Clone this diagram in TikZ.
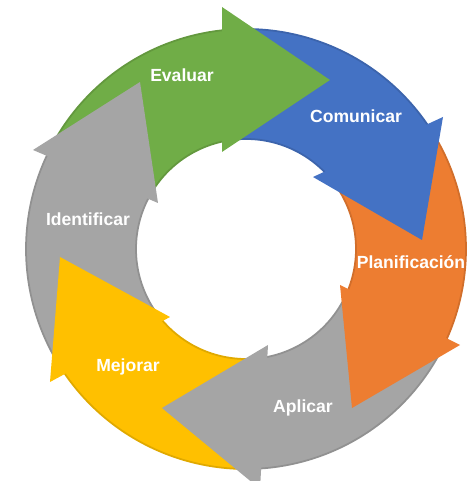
\documentclass[tikz,border=0pt]{standalone}
\usepackage{fontspec}
\setmainfont{Liberation Sans}
\definecolor{cgreen}{HTML}{70AD47}
\definecolor{cblue}{HTML}{4472C4}
\definecolor{corange}{HTML}{ED7D31}
\definecolor{cgray}{HTML}{A5A5A5}
\definecolor{cyellow}{HTML}{FFC000}
\tikzset{
  body/.style={fill=#1, draw=#1!88!black, line width=1pt},
  head/.style={fill=#1},
  lbl/.style={text=white, font=\bfseries, anchor=base, inner sep=0pt}
}
\begin{document}
\begin{tikzpicture}
            \useasboundingbox (-4.92, -4.64) rectangle (4.54, 4.98);
            \clip (-4.92, -4.64) rectangle (4.54, 4.98);

            % arrow bodies (ends hidden under the heads)
            \draw[body=cgreen] (150.5:4.4) arc[start angle=150.5, end angle=94.5, radius=4.4] -- (94.5:2.2) arc[start angle=94.5, end angle=150.5, radius=2.2] -- cycle;
            \draw[body=cblue] (94.5:4.4) arc[start angle=94.5, end angle=33, radius=4.4] -- (33:2.2) arc[start angle=33, end angle=94.5, radius=2.2] -- cycle;
            \draw[body=corange] (33:4.4) arc[start angle=33, end angle=-26.5, radius=4.4] -- (-26.5:2.2) arc[start angle=-26.5, end angle=33, radius=2.2] -- cycle;
            \draw[body=cgray] (-26.5:4.4) arc[start angle=-26.5, end angle=-88.3, radius=4.4] -- (-88.3:2.2) arc[start angle=-88.3, end angle=-26.5, radius=2.2] -- cycle;
            \draw[body=cyellow] (-88.3:4.4) arc[start angle=-88.3, end angle=-146.5, radius=4.4] -- (-146.5:2.2) arc[start angle=-146.5, end angle=-88.3, radius=2.2] -- cycle;
            \draw[body=cgray] (213.5:4.4) arc[start angle=213.5, end angle=150.5, radius=4.4] -- (150.5:2.2) arc[start angle=150.5, end angle=213.5, radius=2.2] -- cycle;

            % arrow heads
            \fill[head=cgreen] (1.68, 3.38) -- (-0.48, 4.84) -- (-0.48, 1.94) -- cycle;
            \fill[head=cblue] (3.52, 0.18) -- (3.94, 2.64) -- (1.34, 1.44) -- cycle;
            \fill[head=corange] (2.12, -3.18) -- (4.28, -1.92) -- (1.88, -0.72) -- cycle;
            \fill[head=cgray] (-1.68, -3.18) -- (0.28, -4.8) -- (0.44, -1.92) -- cycle;
            \fill[head=cyellow] (-3.72, -0.16) -- (-3.92, -2.66) -- (-1.52, -1.36) -- cycle;
            \fill[head=cgray] (-2.12, 3.34) -- (-4.26, 1.98) -- (-1.76, 0.92) -- cycle;

            \node (l1) at (-1.28, 3.34) [lbl] {Evaluar};
            \node (l2) at (2.2, 2.52) [lbl] {Comunicar};
            \node (l3) at (3.3, -0.4) [lbl] {Planificación};
            \node (l4) at (1.14, -3.28) [lbl] {Aplicar};
            \node (l5) at (-2.36, -2.46) [lbl] {Mejorar};
            \node (l6) at (-3.16, 0.46) [lbl] {Identificar};
            
\end{tikzpicture}
\end{document}
